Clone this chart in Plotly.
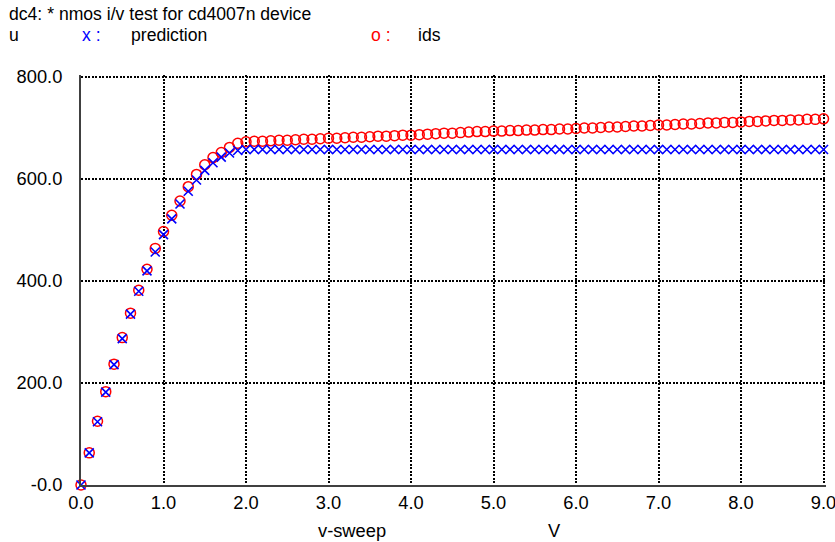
import plotly.graph_objects as go

# ---- data ----
v_sweep = [round(i * 0.1, 1) for i in range(91)]

ids = [
    0, 63, 125, 183, 237, 289, 337, 382, 423, 464,
    497, 529, 557, 585, 609, 628, 642, 652, 662, 670,
    673, 674, 674, 675, 676, 676, 677, 678, 678, 679,
    680, 680, 681, 682, 682, 683, 684, 684, 685, 686,
    686, 687, 688, 689, 690, 690, 691, 692, 693, 693,
    694, 694, 695, 695, 696, 696, 697, 697, 698, 698,
    699, 700, 700, 701, 702, 702, 703, 704, 704, 705,
    706, 706, 707, 708, 708, 709, 710, 710, 711, 711,
    712, 713, 713, 714, 715, 715, 716, 716, 717, 717,
    718,
]

prediction = [
    0, 63, 124, 182, 236, 287, 335, 380, 420, 457,
    491, 522, 551, 576, 598, 617, 632, 643, 651, 656,
    658, 658, 658, 658, 658, 658, 658, 658, 658, 658,
    658, 658, 658, 658, 658, 658, 658, 658, 658, 658,
    658, 658, 658, 658, 658, 658, 658, 658, 658, 658,
    658, 658, 658, 658, 658, 658, 658, 658, 658, 658,
    658, 658, 658, 658, 658, 658, 658, 658, 658, 658,
    658, 658, 658, 658, 658, 658, 658, 658, 658, 658,
    658, 658, 658, 658, 658, 658, 658, 658, 658, 658,
    658,
]

x_tickvals = [0, 1, 2, 3, 4, 5, 6, 7, 8, 9]
x_ticktext = ["0.0", "1.0", "2.0", "3.0", "4.0", "5.0", "6.0", "7.0", "8.0", "9.0"]
y_tickvals = [0, 200, 400, 600, 800]
y_ticktext = ["-0.0", "200.0", "400.0", "600.0", "800.0"]

title_text = "dc4: * nmos i/v test for cd4007n device"

# ---- layout geometry ----
W, H = 835, 542
L, R, T, B = 81, 8.5, 75, 57
PW, PH = W - L - R, H - T - B

def px(xp):
    return (xp - L) / PW

def py(yp):
    return (H - B - yp) / PH

FONT = "Liberation Sans, Arial, sans-serif"
FS = 18.3
HFS = 17.6
RED = "#ff0000"
BLUE = "#0000ff"

fig = go.Figure()
fig.add_trace(go.Scatter(
    x=v_sweep, y=ids, mode="markers", name="ids",
    marker=dict(symbol="circle-open", size=10, color=RED,
                line=dict(width=1.5, color=RED)),
    cliponaxis=False,
))
fig.add_trace(go.Scatter(
    x=v_sweep, y=prediction, mode="markers", name="prediction",
    marker=dict(symbol="x-thin-open", size=9, color=BLUE,
                line=dict(width=1.6, color=BLUE)),
    cliponaxis=False,
))

grid = dict(showgrid=True, gridcolor="black", gridwidth=2,
            griddash="2px,1.5px", zeroline=False, automargin=False)

fig.update_xaxes(range=[0, 9.03], tickvals=x_tickvals, ticktext=x_ticktext,
                 showline=True, linecolor="#404040", linewidth=2,
                 ticks="", ticklabelstandoff=0, ticklabeloverflow="allow",
                 tickfont=dict(family=FONT, size=FS, color="black"), **grid)
fig.update_yaxes(range=[0, 804], tickvals=y_tickvals, ticktext=y_ticktext,
                 showline=True, linecolor="#404040", linewidth=2,
                 ticks="", ticklabelstandoff=13, ticklabeloverflow="allow",
                 tickfont=dict(family=FONT, size=FS, color="black"), **grid)

ann = []
def text(xp, yp, s, color="black", size=FS):
    ann.append(dict(x=px(xp), y=py(yp), xref="paper", yref="paper", text=s,
                    showarrow=False, xanchor="left", yanchor="middle",
                    borderpad=0,
                    font=dict(family=FONT, size=size, color=color)))

text(8, 14, title_text, size=HFS)
text(8, 35, "u", size=HFS)
text(81, 35, "x :", BLUE, size=HFS)
text(130, 35, "prediction", size=HFS)
text(370, 35, "o :", RED, size=HFS)
text(417, 35, "ids", size=HFS)
text(317, 530, "v-sweep")
text(547, 530, "V")

fig.update_layout(
    width=W, height=H,
    margin=dict(l=L, r=R, t=T, b=B, autoexpand=False),
    paper_bgcolor="white", plot_bgcolor="white",
    showlegend=False,
    annotations=ann,
    font=dict(family=FONT, size=FS, color="black"),
)

fig.write_html("out.html")
